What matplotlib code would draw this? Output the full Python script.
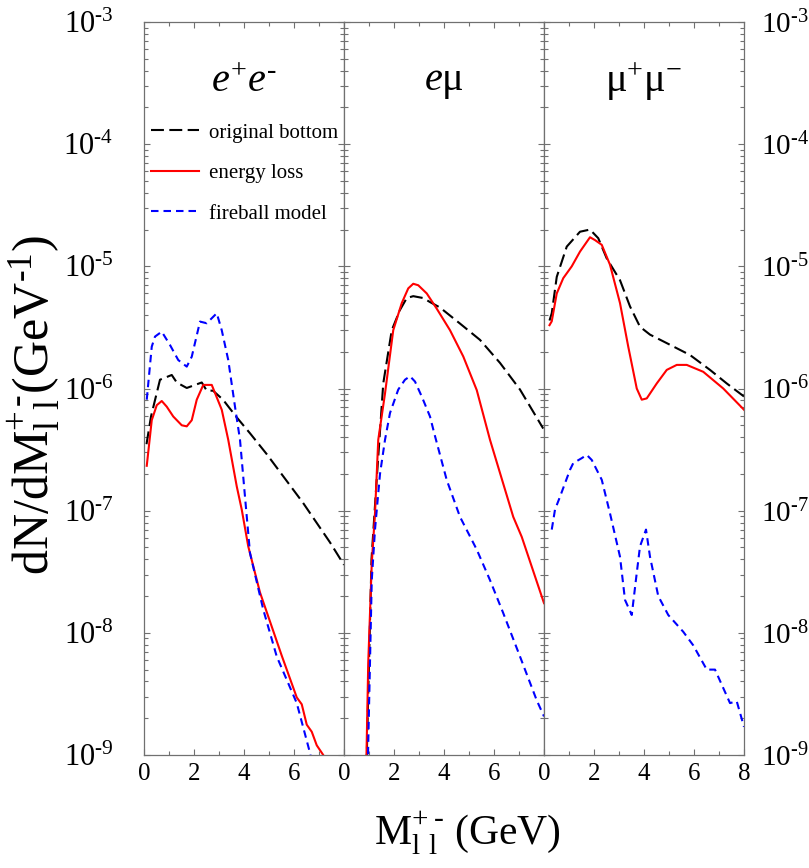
import numpy as np
import matplotlib
matplotlib.use('Agg')
import matplotlib.pyplot as plt
from matplotlib.ticker import FixedLocator, LogLocator, NullFormatter, FixedFormatter

plt.rcParams['font.family'] = 'Liberation Serif'
plt.rcParams['mathtext.fontset'] = 'custom'
plt.rcParams['mathtext.rm'] = 'Liberation Serif'
plt.rcParams['mathtext.it'] = 'Liberation Serif:italic'
plt.rcParams['mathtext.bf'] = 'Liberation Serif:bold'

# ---- data (x in GeV, y in dN/dM) ----
# e+e- panel
ee_orig_x = [0.1, 0.28, 0.64, 1.11, 1.31, 1.71, 2.31, 2.51, 2.76, 3.16, 3.71, 4.24, 4.91, 6.36, 7.44, 8.0]
ee_orig_y = [3.5e-7, 5.9e-7, 1.18e-6, 1.29e-6, 1.12e-6, 1.01e-6, 1.12e-6, 9.6e-7, 9.6e-7, 8.1e-7,
             5.8e-7, 4.3e-7, 2.9e-7, 1.16e-7, 5.5e-8, 3.6e-8]
ee_eloss_x = [0.11, 0.31, 0.51, 0.71, 0.91, 1.17, 1.51, 1.71, 1.91, 2.11, 2.37, 2.71, 3.11, 3.37, 3.71,
              3.91, 4.17, 4.64, 5.51, 6.11, 6.31, 6.51, 6.71, 6.91, 7.17, 7.3]
ee_eloss_y = [2.33e-7, 5.5e-7, 7.3e-7, 7.9e-7, 7.1e-7, 5.9e-7, 5.0e-7, 4.9e-7, 5.5e-7, 8.1e-7, 1.07e-6,
              1.07e-6, 6.7e-7, 3.8e-7, 1.58e-7, 1.02e-7, 5.1e-8, 2.14e-8, 6.5e-9, 2.96e-9, 2.6e-9,
              1.77e-9, 1.55e-9, 1.2e-9, 1.0e-9, 8e-10]
ee_fire_x = [0.11, 0.31, 0.44, 0.71, 1.04, 1.37, 1.71, 1.91, 2.24, 2.51, 2.91, 3.11, 3.37, 3.64, 3.84,
             4.04, 4.24, 4.77, 5.31, 6.11, 6.64, 6.75]
ee_fire_y = [8.1e-7, 2.2e-6, 2.66e-6, 2.92e-6, 2.27e-6, 1.71e-6, 1.51e-6, 1.82e-6, 3.53e-6, 3.42e-6,
             4.13e-6, 3.0e-6, 1.71e-6, 7.1e-7, 3.8e-7, 1.3e-7, 4.5e-8, 1.55e-8, 6.4e-9, 2.66e-9,
             1.04e-9, 8e-10]

# e mu panel
em_orig_x = [0.9, 1.1, 1.3, 1.45, 1.57, 1.91, 2.24, 2.51, 2.77, 3.17, 3.44, 3.84, 4.64, 5.44, 6.24, 7.04, 7.97]
em_orig_y = [8e-10, 4.0e-8, 1.7e-7, 4.8e-7, 1.1e-6, 3.0e-6, 4.4e-6, 5.5e-6, 5.7e-6, 5.5e-6, 5.1e-6,
             4.6e-6, 3.4e-6, 2.5e-6, 1.62e-6, 9.8e-7, 4.7e-7]
em_eloss_x = [0.89, 0.97, 1.11, 1.24, 1.37, 1.64, 1.97, 2.31, 2.57, 2.77, 2.97, 3.31, 3.71, 4.24, 4.77,
              5.31, 5.84, 6.77, 7.11, 8.0]
em_eloss_y = [8e-10, 5.7e-9, 3.7e-8, 9.5e-8, 3.8e-7, 9.1e-7, 3.0e-6, 5.0e-6, 6.6e-6, 7.2e-6, 7.0e-6,
              6.0e-6, 4.5e-6, 3.0e-6, 1.83e-6, 9.7e-7, 3.8e-7, 8.9e-8, 6.1e-8, 1.75e-8]
em_fire_x = [0.95, 1.11, 1.24, 1.44, 1.64, 1.84, 2.17, 2.44, 2.64, 2.84, 3.11, 3.44, 3.61, 4.11, 4.64,
             5.31, 5.84, 6.37, 7.04, 7.71, 8.0]
em_fire_y = [8e-10, 2.7e-8, 7.0e-8, 2.0e-7, 3.8e-7, 6.3e-7, 9.8e-7, 1.18e-6, 1.26e-6, 1.14e-6, 8.6e-7,
             5.9e-7, 4.3e-7, 1.78e-7, 8.9e-8, 4.8e-8, 2.7e-8, 1.45e-8, 6.4e-9, 2.8e-9, 2.07e-9]

# mu+mu- panel
mm_orig_x = [0.22, 0.31, 0.51, 0.91, 1.44, 1.84, 2.17, 2.51, 3.04, 3.44, 3.84, 4.24, 5.04, 5.84, 6.64, 7.31, 8.0]
mm_orig_y = [3.6e-6, 4.13e-6, 8.2e-6, 1.45e-5, 1.92e-5, 2.0e-5, 1.7e-5, 1.16e-5, 7.7e-6, 4.7e-6, 3.2e-6,
             2.76e-6, 2.28e-6, 1.88e-6, 1.42e-6, 1.1e-6, 8.6e-7]
mm_eloss_x = [0.22, 0.31, 0.51, 0.77, 1.11, 1.44, 1.84, 2.04, 2.31, 2.64, 3.04, 3.37, 3.71, 3.91, 4.11,
              4.51, 4.91, 5.31, 5.71, 6.37, 7.17, 8.0]
mm_eloss_y = [3.3e-6, 3.55e-6, 6.0e-6, 8.0e-6, 1.0e-5, 1.32e-5, 1.73e-5, 1.64e-5, 1.5e-5, 1.03e-5, 5.0e-6,
              2.2e-6, 1.0e-6, 8.1e-7, 8.3e-7, 1.1e-6, 1.42e-6, 1.56e-6, 1.56e-6, 1.37e-6, 1.0e-6, 6.7e-7]
mm_fire_x = [0.31, 0.44, 0.64, 1.04, 1.17, 1.51, 1.71, 1.91, 2.31, 2.64, 3.04, 3.24, 3.51, 3.71, 3.84,
             4.08, 4.24, 4.57, 4.97, 5.57, 5.97, 6.51, 6.84, 7.44, 7.71, 8.0]
mm_fire_y = [7.0e-8, 1.02e-7, 1.3e-7, 2.16e-7, 2.45e-7, 2.69e-7, 2.86e-7, 2.6e-7, 1.79e-7, 9.5e-8, 4.2e-8,
             1.86e-8, 1.4e-8, 3.09e-8, 5.1e-8, 7.0e-8, 4.2e-8, 2.0e-8, 1.4e-8, 1.02e-8, 7.9e-9, 5.0e-9,
             5.0e-9, 2.66e-9, 2.75e-9, 1.7e-9]

titles = [r'$e^{+}e^{\text{-}}$', r'$e\mathrm{μ}$', r'$\mathrm{μ}^{+}\mathrm{μ}^{-}$']
labels = ['original bottom', 'energy loss', 'fireball model']
panels = [
    (ee_orig_x, ee_orig_y, ee_eloss_x, ee_eloss_y, ee_fire_x, ee_fire_y),
    (em_orig_x, em_orig_y, em_eloss_x, em_eloss_y, em_fire_x, em_fire_y),
    (mm_orig_x, mm_orig_y, mm_eloss_x, mm_eloss_y, mm_fire_x, mm_fire_y),
]

fig = plt.figure(figsize=(8.09, 8.68), dpi=100)
left, right = 144 / 809, 744 / 809
bottom, top = 1 - 755 / 868, 1 - 22 / 868
w = (right - left) / 3
frame_col = '#707070'

axes = []
for i, (ox, oy, lx, ly, fx, fy) in enumerate(panels):
    ax = fig.add_axes([left + i * w, bottom, w, top - bottom])
    axes.append(ax)
    ax.set_yscale('log')
    ax.set_xlim(0, 8)
    ax.set_ylim(1e-9, 1e-3)

    l1, = ax.plot(ox, oy, color='black', lw=1.5, dashes=(6.2, 2.6))
    l2, = ax.plot(lx, ly, color='#ff0000', lw=1.5)
    l3, = ax.plot(fx, fy, color='#0000ff', lw=1.5, dashes=(3.6, 2.4))

    ax.text(0.5, 0.918, titles[i], transform=ax.transAxes, ha='center', va='center', fontsize=29)

    for s in ax.spines.values():
        s.set_color(frame_col)
        s.set_linewidth(0.9)
    ax.xaxis.set_major_locator(FixedLocator([0, 2, 4, 6, 8]))
    ax.xaxis.set_minor_locator(FixedLocator([1, 3, 5, 7]))
    ax.yaxis.set_minor_locator(LogLocator(base=10, subs=np.arange(2, 10), numticks=20))
    ax.yaxis.set_minor_formatter(NullFormatter())
    ax.tick_params(which='both', direction='in', top=True, right=True, left=True, bottom=True,
                   color=frame_col, width=0.8)
    ax.tick_params(which='major', length=4.5)
    ax.tick_params(which='minor', length=3)
    ax.tick_params(axis='x', labelsize=18, pad=6)
    if i < 2:
        ax.xaxis.set_major_formatter(FixedFormatter(['0', '2', '4', '6', '']))
    else:
        ax.xaxis.set_major_formatter(FixedFormatter(['0', '2', '4', '6', '8']))

    if i == 0:
        ax.legend([l1, l2, l3], labels, loc='upper left', bbox_to_anchor=(0.035, 0.862),
                  frameon=False, fontsize=15, handlelength=2.3, handletextpad=0.5,
                  labelspacing=1.0, borderpad=0, borderaxespad=0)

ylabs = [r'$10^{\text{-}%d}$' % k for k in [9, 8, 7, 6, 5, 4, 3]]
ytk = [10.0 ** (-k) for k in [9, 8, 7, 6, 5, 4, 3]]
for i, ax in enumerate(axes):
    ax.yaxis.set_major_locator(FixedLocator(ytk))
    if i == 0:
        ax.yaxis.set_major_formatter(FixedFormatter(ylabs))
        ax.tick_params(axis='y', which='major', labelsize=22, pad=22, labelleft=True, labelright=False)
    elif i == 2:
        ax.yaxis.set_major_formatter(FixedFormatter(ylabs))
        ax.tick_params(axis='y', which='major', labelsize=21, pad=12, labelleft=False, labelright=True)
    else:
        ax.tick_params(axis='y', labelleft=False, labelright=False)

fig.text(34 / 809, 1 - 405 / 868, r'$\mathrm{dN/dM_{l\;\,l}^{+\,\text{-}}(GeV^{\text{-}1})}$', rotation=90,
         ha='center', va='center', fontsize=36)
fig.text(467 / 809, 1 - 833 / 868, r'$\mathrm{M_{l\;\,l}^{+\;\text{-}}\ (GeV)}$', ha='center', va='center',
         fontsize=30)

fig.savefig('out.png', dpi=100)
